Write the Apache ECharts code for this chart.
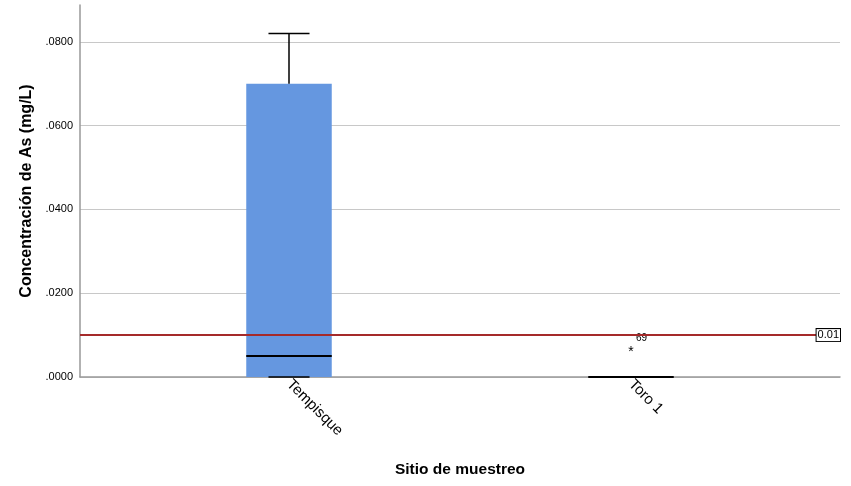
<!DOCTYPE html>
<html>
<head>
<meta charset="utf-8">
<script src="https://cdn.jsdelivr.net/npm/echarts@6/dist/echarts.min.js"></script>
<style>
  html, body { margin: 0; padding: 0; background: #fff; }
  #chart { width: 851px; height: 486px; }
</style>
</head>
<body>
<div id="chart"></div>
<script>
// sitios de muestreo y estadísticos del diagrama de caja
const categories = ['Tempisque', 'Toro 1']
const minVals = [0, 0]
const q1Vals = [0, 0]
const medianVals = [0.005, 0]
const q3Vals = [0.070, 0]
const maxVals = [0.082, 0]
// valores atípicos: [índice de sitio, valor, etiqueta]
const outliers = [[1, 0.0069, '69']]
const refValue = 0.01

const chart = echarts.init(document.getElementById('chart'))
const font = 'Liberation Sans, Arial, sans-serif'
const yMax = 0.0888

const boxData = categories.map((c, i) => [i, minVals[i], q1Vals[i], medianVals[i], q3Vals[i], maxVals[i]])

function renderBox(params, api) {
  const idx = api.value(0)
  const band = api.size([1, 0])[0]
  const boxW = band * 0.25
  const capW = band * 0.12
  const pMin = api.coord([idx, api.value(1)])
  const pQ1 = api.coord([idx, api.value(2)])
  const pMed = api.coord([idx, api.value(3)])
  const pQ3 = api.coord([idx, api.value(4)])
  const pMax = api.coord([idx, api.value(5)])
  const x = Math.round(pMed[0])
  const black = { stroke: '#000', lineWidth: 1.5 }
  const children = []
  if (pQ1[1] - pQ3[1] > 0) {
    children.push({
      type: 'rect',
      shape: { x: x - boxW / 2, y: pQ3[1], width: boxW, height: pQ1[1] - pQ3[1] },
      style: { fill: '#6597E0' }
    })
  }
  if (pQ3[1] - pMax[1] > 0) {
    children.push({ type: 'line', shape: { x1: x, y1: pQ3[1], x2: x, y2: pMax[1] }, style: black })
    children.push({ type: 'line', shape: { x1: x - capW / 2, y1: pMax[1], x2: x + capW / 2, y2: pMax[1] }, style: black })
  }
  if (pMin[1] - pQ1[1] >= 0) {
    children.push({ type: 'line', shape: { x1: x, y1: pQ1[1], x2: x, y2: pMin[1] }, style: black })
    children.push({ type: 'line', shape: { x1: x - capW / 2, y1: pMin[1], x2: x + capW / 2, y2: pMin[1] }, style: black })
  }
  children.push({ type: 'line', shape: { x1: x - boxW / 2, y1: pMed[1], x2: x + boxW / 2, y2: pMed[1] }, style: { stroke: '#000', lineWidth: 2 } })
  return { type: 'group', children }
}

function renderOutlier(params, api) {
  const p = api.coord([api.value(0), api.value(1)])
  const lbl = outliers[params.dataIndex][2]
  return {
    type: 'group',
    children: [
      { type: 'text', x: p[0], y: p[1] + 4, style: { text: '*', font: '14px ' + font, fill: '#000', align: 'center', verticalAlign: 'middle' } },
      { type: 'text', x: p[0] + 5, y: p[1] - 10, style: { text: lbl, font: '10px ' + font, fill: '#000', align: 'left', verticalAlign: 'middle' } }
    ]
  }
}

const option = {
  backgroundColor: '#fff',
  animation: false,
  grid: [
    { left: 80, right: 11, top: 5, bottom: 109, outerBoundsMode: 'none', containLabel: false },
    { left: 118, right: 49, top: 5, bottom: 109, outerBoundsMode: 'none', containLabel: false }
  ],
  xAxis: [
    {
      gridIndex: 0, type: 'value', min: 0, max: 1,
      axisLine: { show: true, onZero: false, lineStyle: { color: '#999', width: 1.5 } },
      axisTick: { show: false }, axisLabel: { show: false }, splitLine: { show: false },
      name: 'Sitio de muestreo', nameLocation: 'middle', nameGap: 85,
      nameTextStyle: { fontFamily: font, fontSize: 15.5, fontWeight: 'bold', color: '#000' }
    },
    {
      gridIndex: 1, type: 'category', data: categories,
      axisLine: { show: false }, axisTick: { show: false },
      axisLabel: { rotate: -45, margin: 5, fontFamily: font, fontSize: 15, color: '#000' }
    }
  ],
  yAxis: [
    {
      gridIndex: 0, type: 'value', min: 0, max: yMax, interval: 0.02,
      axisLine: { show: true, lineStyle: { color: '#999', width: 1.5 } },
      axisTick: { show: false },
      axisLabel: {
        showMaxLabel: false, margin: 7, fontFamily: font, fontSize: 11, color: '#000',
        formatter: v => v.toFixed(4).replace(/^0/, '')
      },
      splitLine: { show: true, lineStyle: { color: ['#c8c8c8', '#c8c8c8', '#c8c8c8', '#c8c8c8', '#c8c8c8', 'transparent'], width: 1 } },
      name: 'Concentración de As (mg/L)', nameLocation: 'middle', nameGap: 44,
      nameTextStyle: { fontFamily: font, fontSize: 16, fontWeight: 'bold', color: '#000' }
    },
    {
      gridIndex: 1, type: 'value', min: 0, max: yMax, show: false
    }
  ],
  series: [
    {
      type: 'custom', xAxisIndex: 1, yAxisIndex: 1, z: 2,
      renderItem: renderBox,
      encode: { x: 0, y: [1, 2, 3, 4, 5] },
      data: boxData
    },
    {
      type: 'custom', xAxisIndex: 1, yAxisIndex: 1, z: 3,
      renderItem: renderOutlier,
      encode: { x: 0, y: 1 },
      data: outliers.map(o => [o[0], o[1]])
    },
    {
      type: 'line', xAxisIndex: 0, yAxisIndex: 0, z: 5, data: [],
      markLine: {
        symbol: 'none', silent: true, animation: false,
        lineStyle: { color: '#A52A2A', width: 2, type: 'solid' },
        label: {
          show: true, position: 'insideEnd', distance: 0,
          formatter: String(refValue),
          fontFamily: font, fontSize: 11, color: '#000',
          backgroundColor: '#fff', borderColor: '#000', borderWidth: 1,
          padding: [1, 1, 0, 1]
        },
        data: [{ yAxis: refValue }]
      }
    }
  ]
}

chart.setOption(option)
</script>
</body>
</html>
